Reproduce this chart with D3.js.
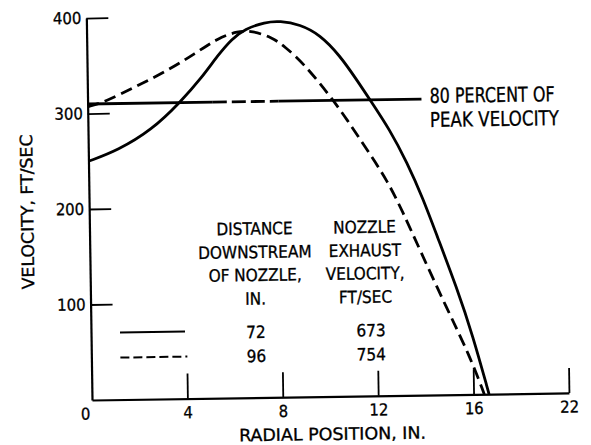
<!DOCTYPE html>
<html>
<head>
<meta charset="utf-8">
<script src="https://cdn.jsdelivr.net/npm/d3@7"></script>
<style>
  html, body { margin: 0; padding: 0; background: #fff; }
  svg { display: block; font-family: "DejaVu Sans Condensed", "DejaVu Sans", sans-serif; font-stretch: condensed; }
  svg text { stroke: #000; stroke-width: 0.3px; }
</style>
</head>
<body>
<svg id="chart" width="591" height="445"></svg>
<script>
// Radial velocity profiles downstream of the nozzle (velocity in ft/sec vs radial position in inches)
const xTicks = [0, 4, 8, 12, 16, 20];
const xTickLabels = ["0", "4", "8", "12", "16", "22"];
const yTicks = [100, 200, 300, 400];

// 72 in. downstream (solid)
const profile72 = [
  [0, 250], [1.24, 261], [2.68, 282], [3.87, 310], [4.81, 336], [5.49, 359],
  [6.09, 376], [6.64, 386], [7.49, 393], [8.11, 394], [8.95, 390], [9.78, 379],
  [10.6, 357], [11.3, 331], [11.84, 310], [12.66, 278], [13.35, 244], [14.0, 206],
  [14.56, 167], [15.36, 112], [16.0, 62], [16.65, 0]
];
// 96 in. downstream (dashed)
const profile96 = [
  [0, 307], [0.73, 312], [2.0, 327], [3.39, 344], [4.53, 361], [5.51, 377],
  [6.35, 384], [6.93, 384], [7.77, 377], [8.3, 367], [9.05, 350], [10.16, 315],
  [10.86, 290], [11.68, 258], [12.5, 226], [13.15, 192], [13.84, 152], [14.94, 90],
  [15.87, 40], [16.45, 0]
];

// 80 percent of peak velocity reference line
const peakLineValue = 310;
const peakLineBreaks = [0, 5.25, 8.0, 14.0];   // solid | dashed | solid
const peakLineLabel = ["80 PERCENT OF", "PEAK VELOCITY"];

// Legend table
const legendDistanceHead = ["DISTANCE", "DOWNSTREAM", "OF NOZZLE,", "IN."];
const legendExhaustHead = ["NOZZLE", "EXHAUST", "VELOCITY,", "FT/SEC"];
const legendDistance = ["72", "96"];
const legendExhaust = ["673", "754"];

const xTitle = "RADIAL POSITION, IN.";
const yTitle = "VELOCITY, FT/SEC";

// ---- layout ----
const ox = 92, oy = 400;
const tilt = -0.85;
const svg = d3.select("#chart");
const g = svg.append("g").attr("transform", `rotate(${tilt}, ${ox}, ${oy})`);

const x = d3.scaleLinear().domain([0, 20]).range([ox, 569]);
const y = d3.scaleLinear().domain([0, 400]).range([oy, 18]);

const ink = "#000";
const tickFont = 16.5;

// x axis
const xAxis = d3.axisBottom(x)
  .tickValues(xTicks)
  .tickFormat(d => xTickLabels[xTicks.indexOf(d)])
  .tickSizeInner(-25).tickSizeOuter(0).tickPadding(8);
const gx = g.append("g").attr("transform", `translate(0,${y(0)})`).call(xAxis)
  .attr("font-family", null).attr("font-size", null);
gx.select(".domain").attr("stroke", ink).attr("stroke-width", 2.2);
gx.selectAll(".tick line").attr("stroke", ink).attr("stroke-width", 1.8);
gx.selectAll(".tick text").attr("fill", ink).attr("font-size", tickFont);
gx.selectAll(".tick").filter(d => d === 0).select("line").remove();
gx.selectAll(".tick").filter(d => d === 0).select("text").attr("dx", -7);

// y axis
const yAxis = d3.axisLeft(y)
  .tickValues(yTicks)
  .tickSizeInner(-22).tickSizeOuter(0).tickPadding(5);
const gy = g.append("g").attr("transform", `translate(${x(0)},0)`).call(yAxis)
  .attr("font-family", null).attr("font-size", null);
gy.select(".domain").attr("stroke", ink).attr("stroke-width", 2.2);
gy.selectAll(".tick line").attr("stroke", ink).attr("stroke-width", 1.8);
gy.selectAll(".tick text").attr("fill", ink).attr("font-size", tickFont);

// axis titles
g.append("text")
  .attr("transform", `translate(36,211) rotate(-90)`)
  .attr("text-anchor", "middle").attr("font-size", 17).attr("fill", ink)
  .attr("textLength", 155).attr("lengthAdjust", "spacingAndGlyphs")
  .text(yTitle);
g.append("text")
  .attr("x", 332).attr("y", 443.5)
  .attr("text-anchor", "middle").attr("font-size", 17).attr("fill", ink)
  .attr("textLength", 187).attr("lengthAdjust", "spacingAndGlyphs")
  .text(xTitle);

// profiles
const line = d3.line().x(d => x(d[0])).y(d => y(d[1])).curve(d3.curveBasis);
g.append("path").datum(profile72)
  .attr("d", line).attr("fill", "none").attr("stroke", ink)
  .attr("stroke-width", 2.8).attr("stroke-linejoin", "round");
g.append("path").datum(profile96)
  .attr("d", line).attr("fill", "none").attr("stroke", ink)
  .attr("stroke-width", 2.8).attr("stroke-dasharray", "12,6");

// 80 percent line
const flat = d3.line().x(d => x(d[0])).y(d => y(d[1]));
for (let i = 0; i < peakLineBreaks.length - 1; i++) {
  g.append("path")
    .datum([[peakLineBreaks[i], peakLineValue], [peakLineBreaks[i + 1], peakLineValue]])
    .attr("d", flat).attr("fill", "none").attr("stroke", ink)
    .attr("stroke-width", 2.8)
    .attr("stroke-dasharray", i === 1 ? "14,5" : null);
}
const labelWidths = [125, 129];
peakLineLabel.forEach((t, i) => {
  g.append("text")
    .attr("x", 434).attr("y", 108 + i * 24)
    .attr("font-size", 20.5).attr("fill", ink)
    .attr("textLength", labelWidths[i]).attr("lengthAdjust", "spacingAndGlyphs")
    .text(t);
});

// legend table
const legendFont = 17;
const headRows = [237, 260.5, 283.5, 307];
const dataRows = [340.5, 364.5];
legendDistanceHead.forEach((t, i) => {
  g.append("text").attr("x", 257).attr("y", headRows[i]).attr("text-anchor", "middle")
    .attr("font-size", legendFont).attr("fill", ink).text(t);
});
legendExhaustHead.forEach((t, i) => {
  g.append("text").attr("x", 367).attr("y", headRows[i]).attr("text-anchor", "middle")
    .attr("font-size", legendFont).attr("fill", ink).text(t);
});
legendDistance.forEach((t, i) => {
  g.append("text").attr("x", 257).attr("y", dataRows[i]).attr("text-anchor", "middle")
    .attr("font-size", legendFont).attr("fill", ink).text(t);
});
legendExhaust.forEach((t, i) => {
  g.append("text").attr("x", 372).attr("y", dataRows[i]).attr("text-anchor", "middle")
    .attr("font-size", legendFont).attr("fill", ink).text(t);
});
// legend samples
g.append("line").attr("x1", 121).attr("x2", 186).attr("y1", 333).attr("y2", 333)
  .attr("stroke", ink).attr("stroke-width", 2);
g.append("line").attr("x1", 121).attr("x2", 188).attr("y1", 358).attr("y2", 358)
  .attr("stroke", ink).attr("stroke-width", 2).attr("stroke-dasharray", "9,4");
</script>
</body>
</html>
